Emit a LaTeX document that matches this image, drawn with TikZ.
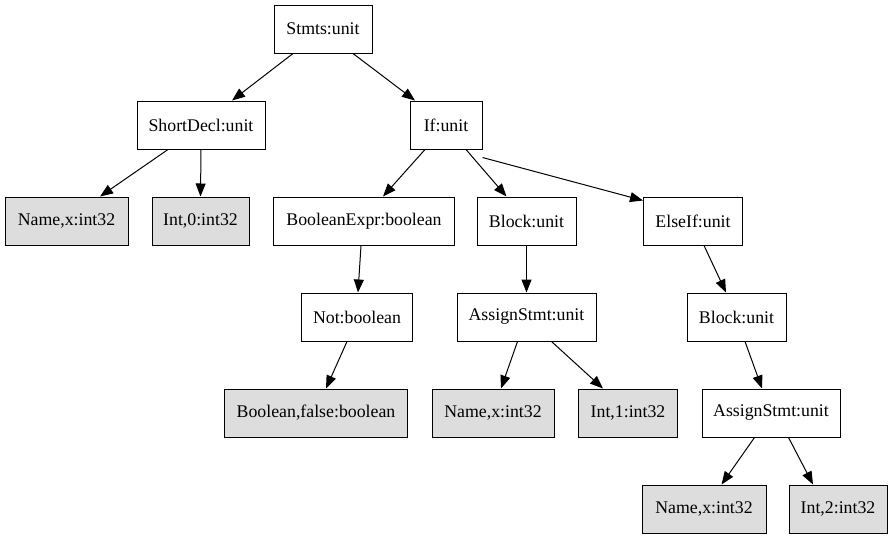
\documentclass[tikz,border=0pt]{standalone}
\usepackage{fontspec}
\setmainfont{Liberation Serif}
\usetikzlibrary{arrows.meta}
\definecolor{leafgray}{RGB}{221,221,221}
\begin{document}
\begin{tikzpicture}[x=1pt,y=-1pt,
  every node/.style={font=\fontsize{17.8}{21}\selectfont},
  astnode/.style={draw=black, line width=1pt, fill=white, rectangle,
    minimum height=48pt, inner xsep=4pt, inner ysep=0pt},
  leaf/.style={astnode, fill=leafgray},
  w/.style={minimum width=#1pt},
  edge/.style={line width=1pt, -{Triangle[length=13pt,width=10pt]}}]
\useasboundingbox (0,0) rectangle (893,539);

% tree nodes, top to bottom
\node[astnode,w=98]  (stmts)  at (323,29)    {Stmts:unit};
\node[astnode,w=128] (short)  at (201,125)   {ShortDecl:unit};
\node[astnode,w=72]  (if)     at (446,125)   {If:unit};
\node[leaf,w=123]    (namea)  at (66.5,221)  {Name,x:int32};
\node[leaf,w=97]     (intz)   at (200.5,221) {Int,0:int32};
\node[astnode,w=181] (bexpr)  at (364,221)   {BooleanExpr:boolean};
\node[astnode,w=99]  (blocka) at (526.5,221) {Block:unit};
\node[astnode,w=99]  (elseif) at (693,221)   {ElseIf:unit};
\node[astnode,w=111] (not)    at (357,317)   {Not:boolean};
\node[astnode,w=139] (assa)   at (526.5,317) {AssignStmt:unit};
\node[astnode,w=99]  (blockb) at (736.5,317) {Block:unit};
\node[leaf,w=183]    (boolf)  at (316,413)   {Boolean,false:boolean};
\node[leaf,w=122]    (nameb)  at (493,413)   {Name,x:int32};
\node[leaf,w=99]     (intone) at (628,413)   {Int,1:int32};
\node[astnode,w=138] (assb)   at (771,413)   {AssignStmt:unit};
\node[leaf,w=124]    (namec)  at (704,509)   {Name,x:int32};
\node[leaf,w=98]     (inttwo) at (838,509)   {Int,2:int32};

% connectors
\draw[edge] ([xshift=-30pt]stmts.south)  -- ([xshift=31pt]short.north);
\draw[edge] ([xshift=30pt]stmts.south)   -- ([xshift=-31pt]if.north);
\draw[edge] ([xshift=-33pt]short.south)  -- ([xshift=33.5pt]namea.north);
\draw[edge] (short.south)                -- (intz.north);
\draw[edge] ([xshift=-21pt]if.south)     -- ([xshift=19pt]bexpr.north);
\draw[edge] ([xshift=20pt]if.south)      -- ([xshift=-20pt]blocka.north);
\draw[edge] ([yshift=-8pt]if.south east) -- ([yshift=-4pt]elseif.north west);
\draw[edge] ([xshift=-3pt]bexpr.south)   -- ([xshift=1pt]not.north);
\draw[edge] (blocka.south)               -- (assa.north);
\draw[edge] ([xshift=11pt]elseif.south)  -- ([xshift=-10.5pt]blockb.north);
\draw[edge] ([xshift=-10pt]not.south)    -- ([xshift=10pt]boolf.north);
\draw[edge] ([xshift=-9pt]assa.south)    -- ([xshift=8pt]nameb.north);
\draw[edge] ([xshift=25pt]assa.south)    -- ([xshift=-25pt]intone.north);
\draw[edge] ([xshift=8.5pt]blockb.south) -- ([xshift=-9pt]assb.north);
\draw[edge] ([xshift=-16.5pt]assb.south) -- ([xshift=17.5pt]namec.north);
\draw[edge] ([xshift=17.5pt]assb.south)  -- ([xshift=-25pt]inttwo.north);
\end{tikzpicture}
\end{document}
